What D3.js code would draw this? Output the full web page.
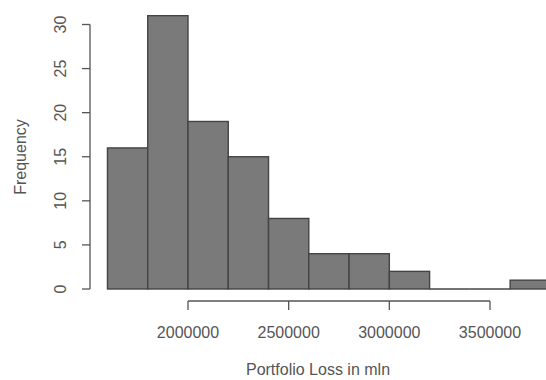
<!DOCTYPE html>
<html><head><meta charset="utf-8">
<script src="https://cdn.jsdelivr.net/npm/d3@7/dist/d3.min.js"></script>
<style>body{margin:0;background:#fff}text{font-family:"Liberation Sans",Arial,sans-serif}</style>
</head><body>
<script>
const binStarts = [1600000,1800000,2000000,2200000,2400000,2600000,2800000,3000000,3200000,3400000,3600000];
const binWidth = 200000;
const counts = [16,31,19,15,8,4,4,2,0,0,1];
const xTicks = [2000000,2500000,3000000,3500000];
const yTicks = [0,5,10,15,20,25,30];

const W=546,H=380;
const svg=d3.select("body").append("svg").attr("width",W).attr("height",H);
const x=d3.scaleLinear().domain([2000000,3500000]).range([188,490]);
const y=d3.scaleLinear().domain([0,30]).range([289,24.5]);
const col="#555";
const fs="16px";

svg.append("g").selectAll("rect").data(binStarts).join("rect")
  .attr("x",(d)=>x(d)).attr("width",(d)=>x(d+binWidth)-x(d))
  .attr("y",(d,i)=>y(counts[i])).attr("height",(d,i)=>y(0)-y(counts[i]))
  .attr("fill","#7a7a7a").attr("stroke","#444").attr("stroke-width",1.4);
// zero-height bins drawn as a baseline segment
svg.append("g").selectAll("line").data(binStarts.filter((d,i)=>counts[i]===0)).join("line")
  .attr("x1",(d)=>x(d)).attr("x2",(d)=>x(d+binWidth)).attr("y1",y(0)).attr("y2",y(0))
  .attr("stroke","#444").attr("stroke-width",1.4);

// y axis
const yg=svg.append("g");
yg.append("line").attr("x1",90).attr("x2",90).attr("y1",y(0)).attr("y2",y(30)).attr("stroke",col).attr("stroke-width",1.3);
yg.selectAll("line.t").data(yTicks).join("line").attr("class","t")
  .attr("x1",82).attr("x2",90).attr("y1",(d)=>y(d)).attr("y2",(d)=>y(d)).attr("stroke",col).attr("stroke-width",1.3);
yg.selectAll("text").data(yTicks).join("text")
  .attr("transform",(d)=>`translate(66,${y(d)}) rotate(-90)`).attr("text-anchor","middle")
  .attr("fill",col).style("font-size",fs).text(d3.format("d"));

// x axis
const xg=svg.append("g");
xg.append("line").attr("x1",x(2000000)).attr("x2",x(3500000)).attr("y1",301).attr("y2",301).attr("stroke",col).attr("stroke-width",1.3);
xg.selectAll("line.t").data(xTicks).join("line").attr("class","t")
  .attr("x1",(d)=>x(d)).attr("x2",(d)=>x(d)).attr("y1",301).attr("y2",310).attr("stroke",col).attr("stroke-width",1.3);
xg.selectAll("text").data(xTicks).join("text")
  .attr("x",(d)=>x(d)).attr("y",338).attr("text-anchor","middle")
  .attr("fill",col).style("font-size",fs).text(d3.format("d"));

svg.append("text").attr("x",318).attr("y",375).attr("text-anchor","middle")
  .attr("fill",col).style("font-size",fs).text("Portfolio Loss in mln");
svg.append("text").attr("transform","translate(26,157) rotate(-90)").attr("text-anchor","middle")
  .attr("fill",col).style("font-size",fs).text("Frequency");
</script>
</body></html>
